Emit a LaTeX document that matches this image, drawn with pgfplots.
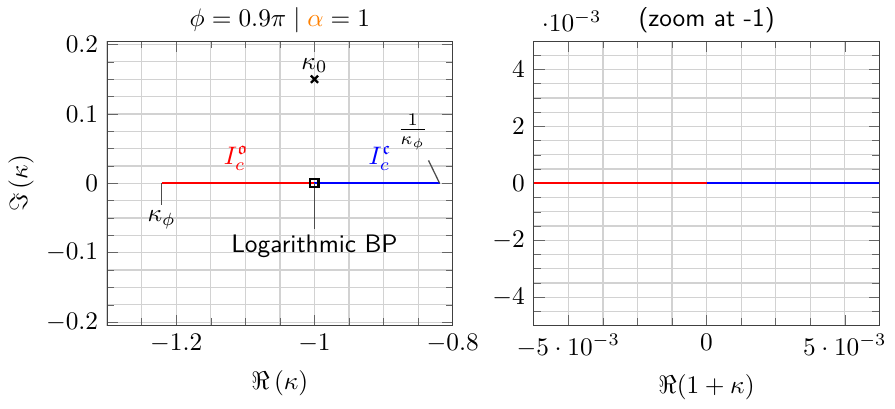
\documentclass[border=0pt]{standalone}
\usepackage{amssymb}
\usepackage{pgfplots}
\pgfplotsset{compat=1.18}

\pgfplotsset{
  branchaxis/.style={
    scale only axis,
    width=136.5pt, height=112.4pt,
    grid=both,
    major grid style={gray!35, line width=0.5pt},
    minor grid style={gray!35, line width=0.5pt},
    axis line style={black!75},
    tick style={black!60},
    tick align=inside,
    clip=false,
  },
}

\begin{document}
\begin{tikzpicture}
% full view of the branch cut around kappa = -1
\begin{axis}[
  branchaxis,
  at={(0,0)},
  xmin=-1.3, xmax=-0.8,
  ymin=-0.205, ymax=0.205,
  xtick={-1.2,-1,-0.8},
  minor xtick={-1.3,-1.25,-1.15,-1.1,-1.05,-0.95,-0.9,-0.85},
  ytick={-0.2,-0.1,0,0.1,0.2},
  minor ytick={-0.175,-0.15,-0.125,-0.075,-0.05,-0.025,0.025,0.05,0.075,0.125,0.15,0.175},
  xlabel={$\Re\left(\kappa\right)$},
  ylabel={$\Im\left(\kappa\right)$},
  ylabel style={yshift=-2pt},
]
  % open and closed parts of the cut
  \addplot[red, line width=0.9pt] coordinates {(-1.2212,0) (-1,0)};
  \addplot[blue, line width=0.9pt] coordinates {(-1,0) (-0.8189,0)};
  % annotation leaders
  \draw[black!70, line width=0.5pt] (axis cs:-1.2212,0) -- (axis cs:-1.2212,-0.031)
     node[anchor=north, black, inner sep=2pt] {$\kappa_\phi$};
  \draw[black!70, line width=0.5pt] (axis cs:-0.8189,0) -- (axis cs:-0.835,0.033);
  \node[black] at (axis cs:-0.858,0.074) {$\frac{1}{\kappa_\phi}$};
  \draw[black!70, line width=0.7pt] (axis cs:-1,0) -- (axis cs:-1,-0.066)
     node[anchor=north, black, inner sep=2pt] {\sffamily Logarithmic BP};
  \node[red] at (axis cs:-1.113,0.036) {$I_c^{\mathfrak{o}}$};
  \node[blue] at (axis cs:-0.905,0.036) {$I_c^{\mathfrak{c}}$};
  % branch point and kappa_0
  \addplot[only marks, mark=square, mark size=1.6pt, black, line width=0.8pt] coordinates {(-1,0)};
  \addplot[only marks, mark=x, mark size=2pt, black, line width=0.9pt] coordinates {(-1,0.15)}
     node[above, black, inner sep=2pt] {$\kappa_0$};
  % title
  \node[anchor=south, inner sep=3pt] at (rel axis cs:0.5,1)
     {$\phi = 0.9\pi \mid {\color{orange}\alpha} = 1$};
\end{axis}

% magnified view at -1
\begin{axis}[
  branchaxis,
  at={(168.5pt,0)},
  xmin=-0.00625, xmax=0.00625,
  ymin=-0.005, ymax=0.005,
  xtick={-0.005,0,0.005},
  minor xtick={-0.00625,-0.00375,-0.0025,-0.00125,0.00125,0.0025,0.00375,0.00625},
  xticklabels={$-5\cdot10^{-3}$, $0$, $5\cdot10^{-3}$},
  scaled x ticks=false,
  ytick={-0.004,-0.002,0,0.002,0.004},
  minor ytick={-0.0045,-0.0035,-0.003,-0.0025,-0.0015,-0.001,-0.0005,0.0005,0.001,0.0015,0.0025,0.003,0.0035,0.0045},
  scaled y ticks=base 10:3,
  xlabel={$\Re(1+\kappa)$},
]
  \addplot[red, line width=0.9pt] coordinates {(-0.00625,0) (0,0)};
  \addplot[blue, line width=0.9pt] coordinates {(0,0) (0.00625,0)};
  % title
  \node[anchor=south, inner sep=3pt] at (rel axis cs:0.5,1) {\sffamily (zoom at -1)};
\end{axis}
\end{tikzpicture}
\end{document}
